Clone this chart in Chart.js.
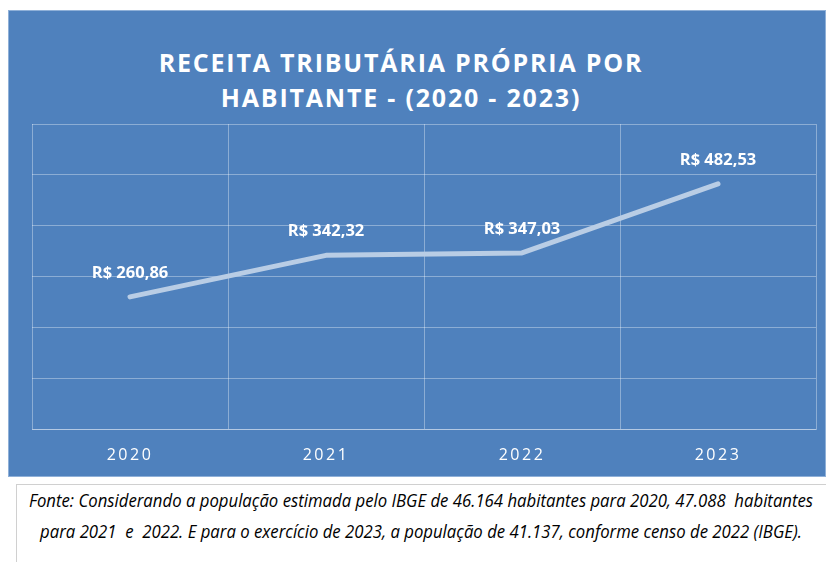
<!DOCTYPE html>
<html>
<head>
<meta charset="utf-8">
<script src="https://cdn.jsdelivr.net/npm/chart.js@4"></script>
<style>
    body { margin: 0; background: #fff; }
    #page { position: relative; width: 826px; height: 562px; overflow: hidden; }
    #panel {
        position: absolute; left: 8px; top: 10px; width: 818px; height: 467px;
        background: #4f81bd; border: 1px solid #8fb0d8; box-sizing: border-box;
    }
    #title {
        position: absolute; left: 0; top: 45px; width: 802px; text-align: center;
        color: #fff; font-family: "Open Sans", sans-serif; font-weight: 700;
        font-size: 25px; line-height: 35px; letter-spacing: 1.8px;
    }
    #chartWrap { position: absolute; left: 0; top: 0; width: 826px; height: 482px; }
    #caption {
        position: absolute; left: 16px; top: 484px; width: 812px; height: 90px;
        border: 1px solid #d0d0d0; box-sizing: border-box;
    }
    #captionText {
        position: absolute; left: 404px; top: 0; text-align: center;
        font-family: "Open Sans", sans-serif; font-style: italic;
        font-size: 19px; line-height: 31px; padding-top: 0px; white-space: pre; color: #000;
    }
</style>
</head>
<body>
<div id="page">
    <div id="panel"></div>
    <div id="title">RECEITA TRIBUTÁRIA PRÓPRIA POR<br>HABITANTE - (2020 - 2023)</div>
    <div id="chartWrap"><canvas id="receitaChart"></canvas></div>
    <div id="caption"><span id="captionText">Fonte: Considerando a população estimada pelo IBGE de 46.164 habitantes para 2020, 47.088  habitantes
para 2021  e  2022. E para o exercício de 2023, a população de 41.137, conforme censo de 2022 (IBGE).</span></div>
</div>
<script>
const years = ['2020', '2021', '2022', '2023'];
const receitaPorHabitante = [260.86, 342.32, 347.03, 482.53];
const valueLabels = ['R$ 260,86', 'R$ 342,32', 'R$ 347,03', 'R$ 482,53'];

const gridColor = 'rgba(255, 255, 255, 0.35)';

// squeeze the caption so it looks like the narrow font of the original
const cap = document.getElementById('captionText');
const capScale = Math.min(1, 784 / cap.offsetWidth);
cap.style.transformOrigin = 'left top';
cap.style.transform = 'scaleX(' + capScale + ') translateX(-50%)';

// spaced-out tick labels
const tickSpacing = {
    id: 'tickSpacing',
    beforeDraw(chart) {
        chart.ctx.letterSpacing = '2.5px';
    }
};

// draws the R$ labels above each point
const pointLabels = {
    id: 'pointLabels',
    afterDatasetsDraw(chart) {
        const ctx = chart.ctx;
        const meta = chart.getDatasetMeta(0);
        ctx.save();
        ctx.letterSpacing = '0px';
        ctx.fillStyle = '#ffffff';
        ctx.font = 'bold 16.5px "Open Sans", sans-serif';
        ctx.textAlign = 'center';
        ctx.textBaseline = 'middle';
        meta.data.forEach((pt, i) => {
            ctx.fillText(valueLabels[i], pt.x, pt.y - 24);
        });
        ctx.restore();
    }
};

new Chart(document.getElementById('receitaChart'), {
    type: 'line',
    data: {
        labels: years,
        datasets: [{
            data: receitaPorHabitante,
            borderColor: '#b9cde5',
            borderWidth: 5,
            borderCapStyle: 'round',
            borderJoinStyle: 'round',
            pointRadius: 0,
            tension: 0
        }]
    },
    options: {
        responsive: true,
        maintainAspectRatio: false,
        animation: false,
        layout: { padding: { left: 32, right: 10, top: 124, bottom: 1 } },
        plugins: {
            legend: { display: false },
            tooltip: { enabled: false }
        },
        scales: {
            x: {
                offset: true,
                grid: { color: gridColor, drawTicks: false, offset: true },
                border: { color: gridColor },
                ticks: {
                    color: '#ffffff',
                    padding: 16,
                    font: { family: '"Open Sans", sans-serif', size: 16 }
                }
            },
            y: {
                min: 0,
                max: 600,
                grid: { color: gridColor, drawTicks: false },
                border: { display: false },
                ticks: { display: false, stepSize: 100 }
            }
        }
    },
    plugins: [tickSpacing, pointLabels]
});
</script>
</body>
</html>
